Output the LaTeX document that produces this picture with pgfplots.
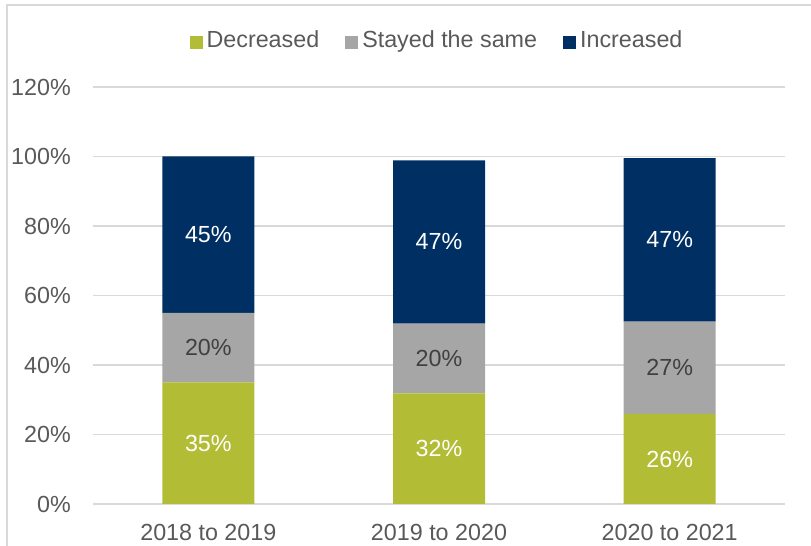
\documentclass[border=0pt]{standalone}
\usepackage{fontspec}
\setmainfont{Liberation Sans}
\usepackage{pgfplots}
\pgfplotsset{compat=1.18}
\definecolor{cgreen}{HTML}{B3BC35}
\definecolor{cgrey}{HTML}{A6A6A6}
\definecolor{cnavy}{HTML}{003063}
\definecolor{ctext}{HTML}{595959}
\definecolor{cgrid}{HTML}{D9D9D9}
\definecolor{clab}{HTML}{404040}
\begin{document}
\fontsize{23.3bp}{28bp}\selectfont
\begin{tikzpicture}
\useasboundingbox (0,0) rectangle (811bp,546bp);
\begin{axis}[
  at={(93bp,42bp)}, anchor=south west,
  scale only axis, width=692bp, height=417bp,
  ybar stacked, bar width=92bp,
  xmin=-0.5, xmax=2.5, ymin=0, ymax=120,
  xtick={0,1,2}, xticklabels={2018 to 2019, 2019 to 2020, 2020 to 2021},
  ytick={0,20,...,120},
  yticklabel={\pgfmathprintnumber{\tick}\%},
  /pgf/number format/assume math mode=true,
  ymajorgrids, grid style={cgrid, line width=1.5bp},
  axis line style={draw=none},
  major tick style={draw=none},
  tick label style={font=\fontsize{23.3bp}{28bp}\selectfont, text=ctext},
  yticklabel style={anchor=east, inner sep=0pt, xshift=-22bp},
  xticklabel style={anchor=north, inner sep=0pt, yshift=-20bp},
  visualization depends on=rawy \as \rawy,
  nodes near coords={\pgfmathprintnumber[fixed,precision=0]{\rawy}\%},
  every node near coord/.append style={anchor=center, inner sep=0pt, font=\fontsize{23.3bp}{28bp}\selectfont},
  legend style={at={(0.4957,1.110)}, anchor=center, draw=none, fill=none,
    legend columns=-1, font=\fontsize{23.3bp}{28bp}\selectfont, text=ctext,
    nodes={inner sep=0pt},
    /tikz/every even column/.append style={column sep=26bp},
    /tikz/every odd column/.append style={column sep=4bp}},
  legend image code/.code={\fill[#1] (0bp,-7.5bp) rectangle (13bp,5bp);},
]
\addplot[fill=cgreen, draw=none, every node near coord/.append style={text=white}] coordinates {(0,35) (1,31.8) (2,25.9)};
\addplot[fill=cgrey, draw=none, every node near coord/.append style={text=clab}] coordinates {(0,20) (1,20.1) (2,26.6)};
\addplot[fill=cnavy, draw=none, every node near coord/.append style={text=white}] coordinates {(0,45) (1,47) (2,47)};
\legend{Decreased, Stayed the same, Increased}
\end{axis}
\draw[cgrid, line width=2bp] (7bp,0bp) -- (7bp,541bp) -- (811bp,541bp);
\end{tikzpicture}
\end{document}
